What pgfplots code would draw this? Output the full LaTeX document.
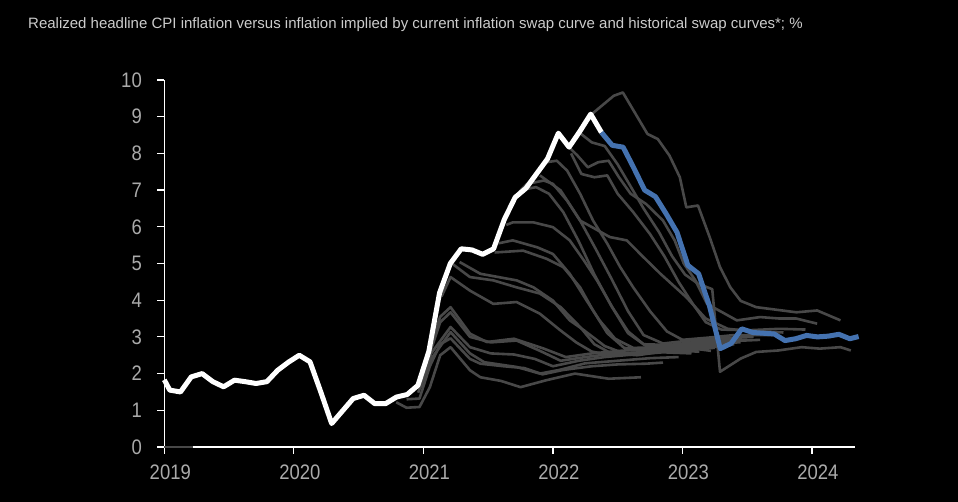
\documentclass[border=0pt]{standalone}
\usepackage{fontspec}
\setmainfont{Liberation Sans}[FakeStretch=0.88]
\newfontfamily\titlefont{Liberation Sans}
\usepackage{pgfplots}
\pgfplotsset{compat=1.18}

\definecolor{bluecur}{RGB}{68,114,176}
\definecolor{hist}{RGB}{72,72,72}
\definecolor{ticklab}{RGB}{170,170,170}
\definecolor{titlecol}{RGB}{204,204,204}

\begin{document}
\begin{tikzpicture}
\fill[black] (0,0) rectangle (958pt,502pt);
\node[anchor=base west, text=titlecol, font=\titlefont\fontsize{15}{17}\selectfont, inner sep=0pt]
  at (28pt,473pt) {Realized headline CPI inflation versus inflation implied by current inflation swap curve and historical swap curves*; \%};

\begin{axis}[
  at={(164.3pt,55pt)}, anchor=south west,
  scale only axis, width=690.4pt, height=367pt,
  xmin=2019, xmax=2024.33, ymin=0, ymax=10,
  axis x line*=bottom, axis y line*=left,
  axis line style={-, white, line width=1.2pt},
  xtick={2019,2020,2021,2022,2023,2024},
  xticklabels={2019,2020,2021,2022,2023,2024},
  ytick={0,1,...,10},
  xtick pos=left, ytick pos=left,
  tick align=outside, major tick length=7pt,
  tick style={white, line width=1.2pt},
  tick label style={font=\fontsize{21}{21}\selectfont, text=ticklab},
  xticklabel style={xshift=6pt, yshift=-7pt},
  yticklabel style={xshift=-12pt},
  /pgf/number format/assume math mode=true,
  clip=false,
  hist line/.style={color=hist, line width=2.6pt, line join=round},
]

% tick marks, drawn explicitly so that they show on the black ground
\pgfplotsinvokeforeach{2019,2020,2021,2022,2023,2024}{
  \draw[white, line width=1.2pt] (axis cs:#1,0) -- ++(0pt,-7pt);
}
\pgfplotsinvokeforeach{0,1,2,3,4,5,6,7,8,9,10}{
  \draw[white, line width=1.2pt] (axis cs:2019,#1) -- ++(-7pt,0pt);
}

% small dark segment on the zero line
\addplot[color=hist, line width=2.5pt] coordinates {(2019,0)(2019.22,0)};

% historical swap curves
\addplot[hist line] coordinates {(2020.79,1.22)(2020.87,1.07)(2020.97,1.09)(2021.05,1.63)(2021.13,2.50)(2021.21,2.72)(2021.36,2.09)(2021.44,1.90)(2021.60,1.80)(2021.75,1.63)(2021.95,1.82)(2022.17,2.00)(2022.43,1.86)(2022.68,1.90)};
\addplot[hist line] coordinates {(2020.87,1.30)(2020.97,1.32)(2021.05,2.20)(2021.13,2.80)(2021.21,2.96)(2021.36,2.40)(2021.44,2.27)(2021.62,2.20)(2021.78,2.15)(2021.92,1.98)(2022.08,2.10)(2022.30,2.20)(2022.50,2.25)(2022.72,2.27)(2022.85,2.30)};
\addplot[hist line] coordinates {(2020.96,1.48)(2021.05,2.35)(2021.21,3.13)(2021.36,2.55)(2021.47,2.31)(2021.72,2.18)(2021.90,2.00)(2022.05,2.10)(2022.25,2.28)(2022.50,2.35)(2022.75,2.42)(2022.97,2.45)};
\addplot[hist line] coordinates {(2020.98,1.62)(2021.06,2.55)(2021.21,3.27)(2021.36,2.72)(2021.52,2.55)(2021.70,2.52)(2021.86,2.40)(2022.00,2.20)(2022.20,2.35)(2022.40,2.45)(2022.62,2.52)(2022.85,2.58)(2023.07,2.55)};
\addplot[hist line] coordinates {(2021.04,2.45)(2021.13,3.40)(2021.21,3.67)(2021.36,3.00)(2021.52,2.85)(2021.72,2.90)(2021.90,2.62)(2022.06,2.35)(2022.25,2.45)(2022.48,2.55)(2022.70,2.58)(2022.92,2.62)(2023.13,2.60)};
\addplot[hist line] coordinates {(2021.06,2.85)(2021.13,3.55)(2021.21,3.81)(2021.36,3.09)(2021.49,2.86)(2021.70,2.95)(2021.93,2.68)(2022.10,2.45)(2022.30,2.55)(2022.52,2.62)(2022.75,2.68)(2022.98,2.72)(2023.20,2.65)};
\addplot[hist line] coordinates {(2021.14,4.10)(2021.21,4.63)(2021.36,4.26)(2021.54,3.90)(2021.72,3.95)(2021.90,3.63)(2022.05,3.20)(2022.18,2.85)(2022.30,2.60)(2022.45,2.50)(2022.65,2.55)(2022.85,2.62)(2023.05,2.70)(2023.22,2.62)};
\addplot[hist line] coordinates {(2021.22,5.00)(2021.36,4.63)(2021.54,4.54)(2021.72,4.35)(2021.90,4.18)(2022.06,3.81)(2022.21,3.27)(2022.32,2.80)(2022.45,2.55)(2022.65,2.50)(2022.85,2.60)(2023.05,2.68)(2023.25,2.70)};
\addplot[hist line] coordinates {(2021.28,5.04)(2021.44,4.72)(2021.72,4.54)(2021.85,4.35)(2022.00,3.99)(2022.13,3.45)(2022.24,3.18)(2022.40,2.75)(2022.55,2.55)(2022.75,2.60)(2022.95,2.70)(2023.15,2.75)(2023.32,2.72)};
\addplot[hist line] coordinates {(2021.55,5.30)(2021.77,5.35)(2021.95,5.13)(2022.08,4.90)(2022.21,4.35)(2022.31,3.72)(2022.42,3.10)(2022.55,2.70)(2022.75,2.62)(2022.95,2.70)(2023.15,2.78)(2023.40,2.80)};
\addplot[hist line] coordinates {(2021.58,5.55)(2021.69,5.63)(2021.88,5.44)(2022.00,5.26)(2022.13,4.72)(2022.26,3.99)(2022.36,3.45)(2022.48,2.95)(2022.62,2.70)(2022.85,2.72)(2023.05,2.80)(2023.25,2.84)(2023.45,2.85)};
\addplot[hist line] coordinates {(2021.64,6.05)(2021.69,6.12)(2021.85,6.12)(2022.00,5.99)(2022.13,5.63)(2022.24,5.08)(2022.34,4.54)(2022.46,3.80)(2022.58,3.15)(2022.70,2.80)(2022.90,2.78)(2023.10,2.86)(2023.30,2.90)(2023.50,2.92)};
\addplot[hist line] coordinates {(2021.74,6.95)(2021.80,7.17)(2021.93,7.26)(2022.00,7.17)(2022.11,6.71)(2022.21,6.17)(2022.33,5.40)(2022.45,4.60)(2022.58,3.70)(2022.70,3.05)(2022.85,2.82)(2023.05,2.90)(2023.25,2.95)(2023.55,3.00)};
\addplot[hist line] coordinates {(2021.78,7.02)(2021.87,7.08)(2021.97,6.90)(2022.08,6.40)(2022.20,5.60)(2022.32,4.70)(2022.45,3.85)(2022.58,3.10)(2022.72,2.75)(2022.90,2.70)(2023.10,2.80)(2023.35,2.88)(2023.60,2.92)};
\addplot[hist line] coordinates {(2021.90,7.40)(2022.06,6.99)(2022.21,6.17)(2022.44,5.72)(2022.57,5.63)(2022.70,5.17)(2022.83,4.72)(2023.03,4.08)(2023.18,3.50)(2023.35,3.22)(2023.55,3.15)(2023.78,3.12)};
\addplot[hist line] coordinates {(2021.95,7.76)(2022.03,7.80)(2022.11,7.53)(2022.21,6.90)(2022.31,6.17)(2022.42,5.54)(2022.52,4.90)(2022.62,4.35)(2022.75,3.70)(2022.88,3.15)(2023.00,2.92)(2023.20,2.98)(2023.40,3.05)(2023.70,3.05)};
\addplot[hist line] coordinates {(2022.13,8.15)(2022.19,7.94)(2022.27,7.62)(2022.35,7.76)(2022.43,7.80)(2022.51,7.35)(2022.60,6.90)(2022.72,6.62)(2022.85,6.17)(2022.94,5.63)(2023.01,5.00)(2023.10,4.54)(2023.19,3.90)(2023.42,3.45)(2023.60,3.54)(2023.75,3.50)(2023.88,3.50)(2024.04,3.36)};
\addplot[hist line] coordinates {(2022.14,8.00)(2022.22,7.44)(2022.32,7.35)(2022.42,7.40)(2022.50,6.90)(2022.62,6.40)(2022.75,5.80)(2022.86,5.20)(2022.97,4.50)(2023.08,3.90)(2023.18,3.40)(2023.30,3.20)(2023.50,3.18)(2023.75,3.22)(2023.95,3.20)};
\addplot[hist line] coordinates {(2022.21,8.55)(2022.30,8.30)(2022.40,8.20)(2022.50,7.70)(2022.60,7.10)(2022.70,6.50)(2022.82,5.85)(2022.92,5.20)(2023.02,4.70)(2023.12,4.45)(2023.23,4.30)(2023.29,2.05)(2023.45,2.41)(2023.57,2.59)(2023.74,2.63)(2023.92,2.72)(2024.06,2.68)(2024.22,2.72)(2024.30,2.63)};
\addplot[hist line] coordinates {(2022.30,9.07)(2022.47,9.57)(2022.54,9.66)(2022.73,8.53)(2022.81,8.39)(2022.90,7.94)(2022.98,7.35)(2023.03,6.53)(2023.12,6.58)(2023.21,5.72)(2023.29,4.90)(2023.37,4.35)(2023.45,3.98)(2023.57,3.81)(2023.88,3.67)(2024.04,3.72)(2024.22,3.45)};

% realized headline CPI
\addplot[white, line width=5pt, line join=round] coordinates {
(2019.000,1.83)(2019.042,1.55)(2019.125,1.50)(2019.208,1.91)(2019.292,2.00)(2019.375,1.78)
(2019.458,1.64)(2019.542,1.82)(2019.625,1.78)(2019.708,1.73)(2019.792,1.78)(2019.875,2.09)
(2019.958,2.31)(2020.042,2.50)(2020.125,2.32)(2020.208,1.50)(2020.292,0.64)(2020.375,0.98)
(2020.458,1.32)(2020.542,1.41)(2020.625,1.18)(2020.708,1.18)(2020.792,1.36)(2020.875,1.43)
(2020.958,1.68)(2021.042,2.60)(2021.125,4.20)(2021.208,5.00)(2021.292,5.40)(2021.375,5.37)
(2021.458,5.25)(2021.542,5.40)(2021.625,6.20)(2021.708,6.80)(2021.792,7.05)(2021.875,7.45)
(2021.958,7.85)(2022.042,8.55)(2022.125,8.17)(2022.208,8.60)(2022.292,9.07)(2022.375,8.57)};

% implied by current swap curve
\addplot[bluecur, line width=5pt, line join=round] coordinates {
(2022.375,8.57)(2022.458,8.22)(2022.542,8.17)(2022.625,7.60)(2022.708,7.00)(2022.792,6.82)
(2022.875,6.35)(2022.958,5.85)(2023.042,4.95)(2023.125,4.72)(2023.208,3.85)(2023.292,2.68)
(2023.375,2.82)(2023.458,3.22)(2023.542,3.12)(2023.625,3.10)(2023.708,3.08)(2023.792,2.90)
(2023.875,2.95)(2023.958,3.04)(2024.042,3.00)(2024.125,3.02)(2024.208,3.07)(2024.292,2.95)
(2024.360,3.01)};

\end{axis}
\end{tikzpicture}
\end{document}
